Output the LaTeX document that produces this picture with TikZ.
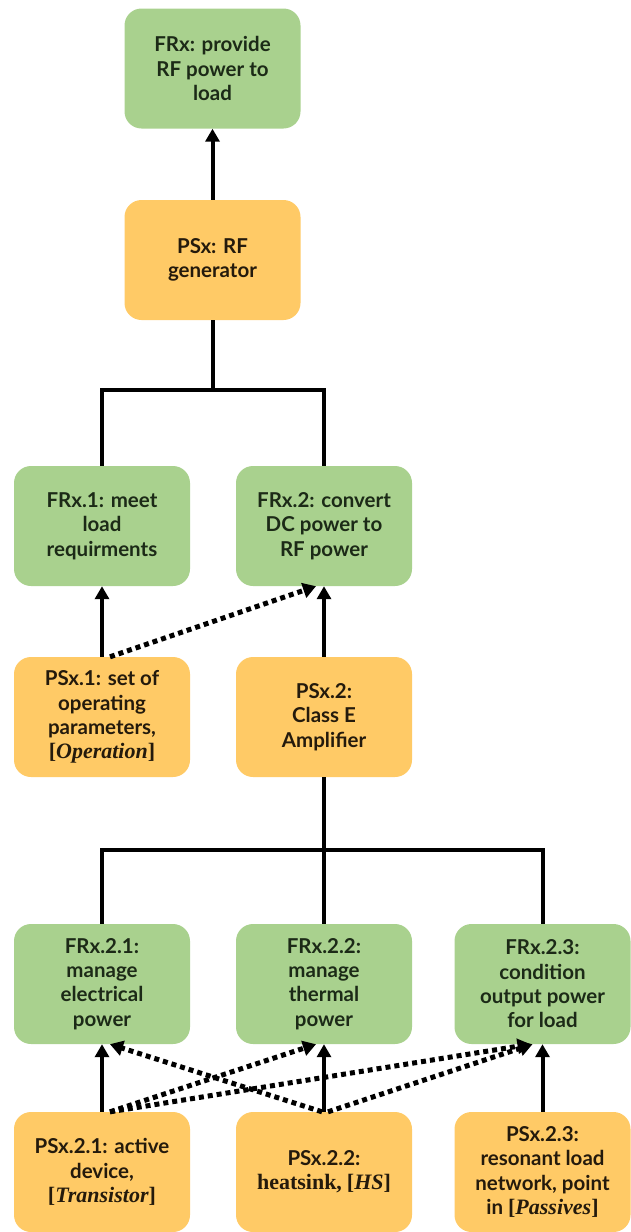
\documentclass[tikz,border=0pt]{standalone}
\usepackage{fontspec}
\setmainfont{Lato}
\newfontfamily\mathserif{Liberation Serif}
\usetikzlibrary{arrows.meta}
\definecolor{frgreen}{HTML}{A9D18E}
\definecolor{psorange}{HTML}{FFCA66}
\definecolor{frtxt}{HTML}{1C2A17}
\definecolor{pstxt}{HTML}{241A0C}
\newcommand{\mvar}[1]{{\mathserif\fontsize{22}{24}\selectfont[\textbf{\textit{#1}}]}}
\tikzset{
  box/.style={rounded corners=17pt, minimum width=176pt, minimum height=120pt,
    align=center, inner sep=2pt, font=\bfseries\fontsize{20.5}{24.3}\selectfont},
  frbox/.style={box, fill=frgreen, text=frtxt},
  psbox/.style={box, fill=psorange, text=pstxt},
  link/.style={line width=4pt, black},
  sarrow/.style={line width=4pt, black, -{Triangle[width=14pt,length=13pt]}},
  darrow/.style={line width=5pt, black, dash pattern=on 5pt off 4pt, -{Triangle[width=15pt,length=13pt]}}
}
\begin{document}
\begin{tikzpicture}[x=1pt,y=-1pt]
\useasboundingbox (0,0) rectangle (631,1232);
% level 0
\node[frbox] (frx) at (212.5,68.5) {FRx: provide\\RF power to\\load};
\node[psbox] (psx) at (212.5,260) {PSx: RF\\generator};
% level 1
\node[frbox] (fr1) at (102,526) {FRx.1: meet\\load\\requirments};
\node[frbox] (fr2) at (324,526) {FRx.2: convert\\DC power to\\RF power};
\node[psbox] (ps1) at (102,717) {PSx.1: set of\\operating\\parameters,\\\mvar{Operation}};
\node[psbox] (ps2) at (324,717) {PSx.2:\\Class E\\Amplifier};
% level 2
\node[frbox] (fr21) at (102,984) {FRx.2.1:\\manage\\electrical\\power};
\node[frbox] (fr22) at (324,984) {FRx.2.2:\\manage\\thermal\\power};
\node[frbox] (fr23) at (542.5,984) {FRx.2.3:\\condition\\output power\\for load};
\node[psbox] (ps21) at (102,1172) {PSx.2.1: active\\device,\\\mvar{Transistor}};
\node[psbox] (ps22) at (324,1172) {PSx.2.2:\\{\mathserif\bfseries\fontsize{22}{24}\selectfont heatsink,} \mvar{HS}};
\node[psbox] (ps23) at (542.5,1172) {PSx.2.3:\\resonant load\\network, point\\in \mvar{Passives}};
% tree connectors
\draw[sarrow] (psx.north) -- (frx.south);
\draw[link] (psx.south) -- ++(0,70) coordinate (j1);
\draw[link] (fr1.north) |- (j1) -| (fr2.north);
\draw[link] (ps2.south) -- ++(0,73) coordinate (j2);
\draw[link] (fr21.north) |- (j2) -| (fr23.north);
\draw[link] (j2) -- (fr22.north);
% solid arrows
\draw[sarrow] (ps1.north) -- (fr1.south);
\draw[sarrow] (ps2.north) -- (fr2.south);
\draw[sarrow] (ps21.north) -- (fr21.south);
\draw[sarrow] (ps22.north) -- (fr22.south);
\draw[sarrow] (ps23.north) -- (fr23.south);
% dotted arrows
\draw[darrow] ([xshift=8pt]ps1.north) -- ([xshift=-8pt]fr2.south);
\draw[darrow] ([xshift=8pt]ps21.north) -- ([xshift=-8pt]fr22.south);
\draw[darrow] ([xshift=8pt]ps21.north) -- ([xshift=-12pt]fr23.south);
\draw[darrow] ([xshift=-2pt]ps22.north) -- ([xshift=8pt]fr21.south);
\draw[darrow] ([xshift=4pt]ps22.north) -- ([xshift=-10pt]fr23.south);
\end{tikzpicture}
\end{document}
